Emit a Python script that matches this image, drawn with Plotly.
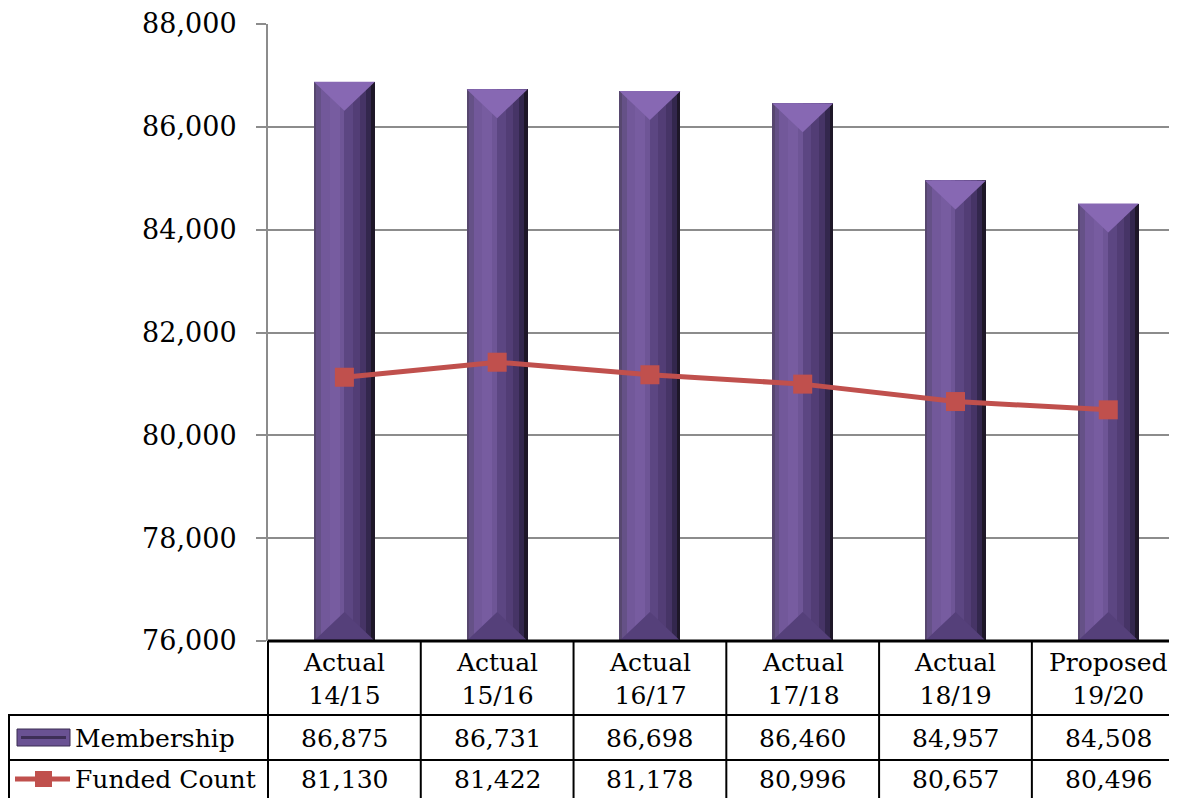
import plotly.graph_objects as go

# ---------------- data ----------------
categories = ["Actual<br>14/15", "Actual<br>15/16", "Actual<br>16/17",
              "Actual<br>17/18", "Actual<br>18/19", "Proposed<br>19/20"]
membership = [86875, 86731, 86698, 86460, 84957, 84508]
funded_count = [81130, 81422, 81178, 80996, 80657, 80496]
series_names = ["Membership", "Funded Count"]
y_ticks = [76000, 78000, 80000, 82000, 84000, 86000, 88000]

# ---------------- layout constants ----------------
OFF = 8                      # page body margin
W, H = 1177 - OFF, 798 - OFF
L, R, T = 268 - OFF, 0, 24 - OFF
B = H - (641 - OFF)
PW, PH = W - L - R, H - T - B
Y_MIN, Y_MAX = y_ticks[0], y_ticks[-1]
X_RANGE = [-0.5, 5.45]
FONT = "DejaVu Serif"
BAR_W = 0.40
LINE_COLOR = "#C0504D"

def pxx(p):
    return (p - OFF - L) / PW

def pxy(p):
    return (H - B - (p - OFF)) / PH

xs = list(range(len(categories)))
fig = go.Figure()

# bar side stripes (bevel look): (start frac, end frac, color)
stripes = [
    (0.000, 0.040, "#57476f"),
    (0.040, 0.120, "#655187"),
    (0.120, 0.260, "#72589a"),
    (0.260, 0.420, "#775ca0"),
    (0.420, 0.500, "#6e5596"),
    (0.500, 0.640, "#5c4682"),
    (0.640, 0.760, "#523d75"),
    (0.760, 0.860, "#463466"),
    (0.860, 0.940, "#33274d"),
    (0.940, 1.000, "#1e1728"),
]
for s0, s1, col in stripes:
    fig.add_trace(go.Bar(
        x=xs, y=membership, base=0,
        width=BAR_W * (s1 - s0), offset=-BAR_W / 2 + BAR_W * s0,
        marker=dict(color=col, line=dict(width=0)),
        hoverinfo="skip", showlegend=False))

# top and bottom bevel triangles, derived from the data
bevel = (Y_MAX - Y_MIN) * 29 / PH
tx, ty, bx, by = [], [], [], []
for x, v in zip(xs, membership):
    tx += [x - BAR_W / 2, x + BAR_W / 2, x, x - BAR_W / 2, None]
    ty += [v, v, v - bevel, v, None]
    bx += [x - BAR_W / 2, x + BAR_W / 2, x, x - BAR_W / 2, None]
    by += [Y_MIN, Y_MIN, Y_MIN + bevel, Y_MIN, None]
fig.add_trace(go.Scatter(x=tx, y=ty, mode="lines", fill="toself",
                         fillcolor="#8768b3", line=dict(width=0, color="#8768b3"),
                         hoverinfo="skip", showlegend=False))
fig.add_trace(go.Scatter(x=bx, y=by, mode="lines", fill="toself",
                         fillcolor="#55407a", line=dict(width=0, color="#55407a"),
                         hoverinfo="skip", showlegend=False))

# funded count line
fig.add_trace(go.Scatter(
    x=xs, y=funded_count, mode="lines+markers", name=series_names[1],
    line=dict(color=LINE_COLOR, width=5),
    marker=dict(symbol="square", size=19, color=LINE_COLOR),
    showlegend=False))

# ---------------- data table below the chart ----------------
shapes = []
black = dict(color="black", width=2)
shapes.append(dict(type="line", xref="paper", yref="paper", x0=0, x1=1,
                   y0=0, y1=0, line=dict(color="black", width=3)))
for yy in (715, 760):
    shapes.append(dict(type="line", xref="paper", yref="paper",
                       x0=pxx(8), x1=1, y0=pxy(yy), y1=pxy(yy), line=black))
shapes.append(dict(type="line", xref="paper", yref="paper", x0=0, x1=0,
                   y0=0, y1=pxy(800), line=black))
shapes.append(dict(type="line", xref="paper", yref="paper", x0=pxx(9), x1=pxx(9),
                   y0=pxy(715), y1=pxy(800), line=black))
for i in range(len(categories) - 1):
    shapes.append(dict(type="line", xref="x", yref="paper", x0=i + 0.5, x1=i + 0.5,
                       y0=0, y1=pxy(800), line=black))

# legend icons in the table
shapes.append(dict(type="rect", xref="paper", yref="paper",
                   x0=pxx(17), x1=pxx(70), y0=pxy(746), y1=pxy(729),
                   fillcolor="#6a5293", line=dict(color="#3b2d52", width=1)))
shapes.append(dict(type="rect", xref="paper", yref="paper",
                   x0=pxx(21), x1=pxx(66), y0=pxy(739), y1=pxy(736),
                   fillcolor="#3e2f57", line=dict(width=0)))
shapes.append(dict(type="line", xref="paper", yref="paper",
                   x0=pxx(15), x1=pxx(70), y0=pxy(779), y1=pxy(779),
                   line=dict(color=LINE_COLOR, width=5)))
shapes.append(dict(type="rect", xref="paper", yref="paper",
                   x0=pxx(35), x1=pxx(52), y0=pxy(787), y1=pxy(771),
                   fillcolor=LINE_COLOR, line=dict(width=0)))

annotations = []
tf = dict(family=FONT, size=25, color="black")
for i, c in enumerate(categories):
    annotations.append(dict(x=i, y=pxy(679), xref="x", yref="paper", text=c,
                            showarrow=False, font=tf, yanchor="middle"))
    annotations.append(dict(x=i, y=pxy(738), xref="x", yref="paper",
                            text=f"{membership[i]:,}", showarrow=False, font=tf,
                            yanchor="middle"))
    annotations.append(dict(x=i, y=pxy(779), xref="x", yref="paper",
                            text=f"{funded_count[i]:,}", showarrow=False, font=tf,
                            yanchor="middle"))
for name, yy in zip(series_names, (738, 779)):
    annotations.append(dict(x=pxx(73), y=pxy(yy), xref="paper", yref="paper",
                            text=name, showarrow=False, font=tf,
                            xanchor="left", yanchor="middle"))

fig.update_layout(
    width=W, height=H,
    margin=dict(l=L, r=R, t=T, b=B, pad=0),
    paper_bgcolor="white", plot_bgcolor="white",
    barmode="overlay", bargap=0,
    font=dict(family=FONT, color="black"),
    showlegend=False,
    shapes=shapes, annotations=annotations,
    xaxis=dict(range=X_RANGE, showgrid=False, zeroline=False, showticklabels=False,
               ticks="", showline=False, fixedrange=True),
    yaxis=dict(range=[Y_MIN, Y_MAX], tickvals=y_ticks, tickformat=",",
               showgrid=True, gridcolor="#8c8c8c", gridwidth=2,
               zeroline=False, showline=True, linecolor="#8c8c8c", linewidth=2,
               ticks="outside", ticklen=10, tickwidth=2, tickcolor="#8c8c8c",
               ticklabelstandoff=14,
               tickfont=dict(family=FONT, size=27, color="black")),
)

fig.write_html("out.html")
